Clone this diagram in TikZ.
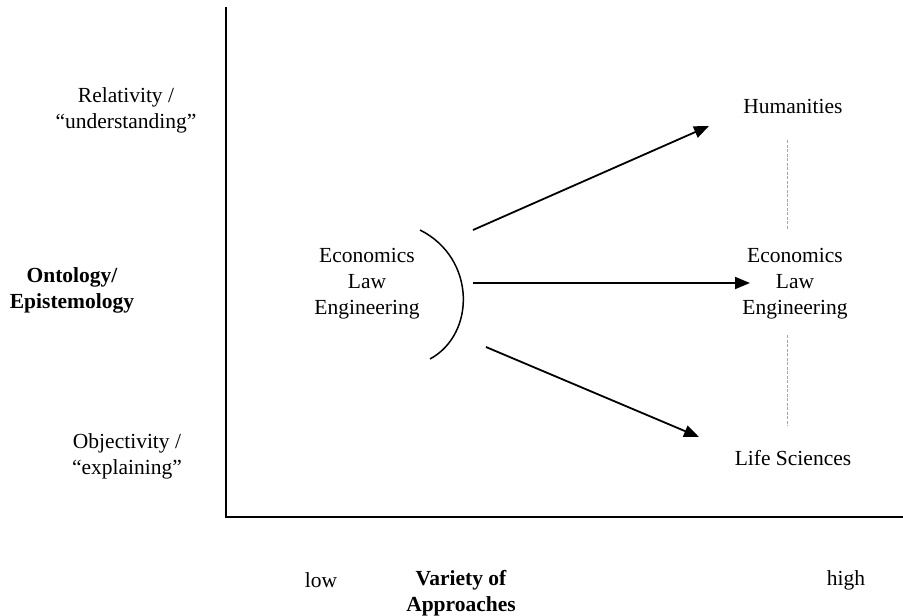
\documentclass[tikz,border=0pt]{standalone}
\usepackage{fontspec}
\setmainfont{Liberation Serif}
\usetikzlibrary{arrows.meta}
\begin{document}
\begin{tikzpicture}[x=1pt,y=-1pt,
  lbl/.style={font=\fontsize{21.5}{26}\selectfont, align=center, inner sep=0pt},
  blbl/.style={font=\fontsize{21.5}{26}\selectfont\bfseries, align=center, inner sep=0pt},
  axis/.style={line width=2.2pt},
  arr/.style={line width=1.8pt, -{Triangle[length=15pt,width=12pt]}},
  guide/.style={gray!70, line width=1pt, dash pattern=on 3pt off 1.5pt}]
\useasboundingbox (0,0) rectangle (903,616);
% axes
\coordinate (top) at (226,7);
\coordinate (origin) at (226,517);
\coordinate (right) at (903,517);
\draw[axis] (top) -- (origin) -- (right);
% y-axis labels
\node[lbl] (rel) at (126,110) {Relativity /\\“understanding”};
\node[blbl] (onto) at (72,290) {Ontology/\\Epistemology};
\node[lbl] (obj) at (127,456) {Objectivity /\\“explaining”};
% x-axis labels
\node[lbl] (low) at (321,580) {low};
\node[lbl] (high) at (846,580) {high};
\node[blbl] (var) at (461,593) {Variety of\\Approaches};
% left group
\node[lbl] (left) at (367,284) {Economics\\Law\\Engineering};
% bracket
\draw[line width=1.5pt] (420,230) .. controls (476,258) and (476,334) .. (430,359);
% right side
\node[lbl] (hum) at (793,106) {Humanities};
\node[lbl] (mid) at (795,284) {Economics\\Law\\Engineering};
\node[lbl] (life) at (793,458) {Life Sciences};
% arrows
\coordinate (a1s) at (473,230); \coordinate (a1e) at (709,126);
\coordinate (a2s) at (473,283); \coordinate (a2e) at (750,283);
\coordinate (a3s) at (486,347); \coordinate (a3e) at (699,437);
\draw[arr] (a1s) -- (a1e);
\draw[arr] (a2s) -- (a2e);
\draw[arr] (a3s) -- (a3e);
% dashed guides
\coordinate (g1s) at (787,140); \coordinate (g1e) at (787,230);
\coordinate (g2s) at (787,335); \coordinate (g2e) at (787,426);
\draw[guide] (g1s) -- (g1e);
\draw[guide] (g2s) -- (g2e);
\end{tikzpicture}
\end{document}
